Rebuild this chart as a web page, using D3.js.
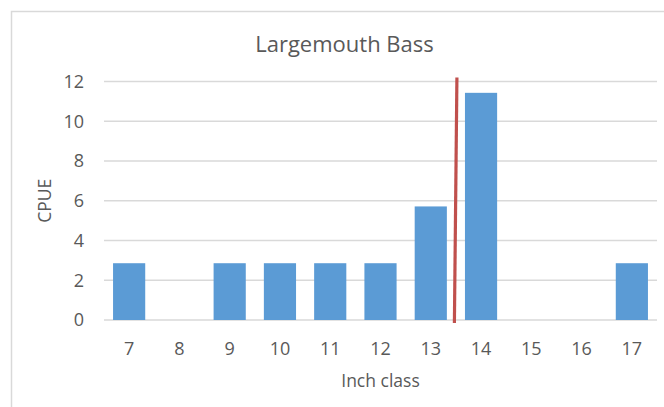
<!DOCTYPE html>
<html>
<head>
<meta charset="utf-8">
<script src="https://cdn.jsdelivr.net/npm/d3@7"></script>
<style>
  html, body { margin: 0; padding: 0; background: #fff; }
  svg { display: block; font-family: "Open Sans", sans-serif; }
</style>
</head>
<body>
<svg id="chart" width="664" height="407"></svg>
<script>
const categories = ["7", "8", "9", "10", "11", "12", "13", "14", "15", "16", "17"];
const cpue = [2.857, 0, 2.857, 2.857, 2.857, 2.857, 5.714, 11.43, 0, 0, 2.857];
const yTicks = [0, 2, 4, 6, 8, 10, 12];
const titleText = "Largemouth Bass";
const xTitle = "Inch class";
const yTitle = "CPUE";
// reference line between classes 13 and 14 (top and bottom ends, in category position and value units)
const refLine = [{pos: 13.52, v: 12.2}, {pos: 13.47, v: -0.15}];

(function () {
const svg = d3.select("#chart");
const W = 664, H = 407;
const pLeft = 104, pRight = 657, pTop = 81.5, pBottom = 320;

// chart border
svg.append("path")
  .attr("d", `M11.5,${H} V11.5 H${W}`)
  .attr("fill", "none").attr("stroke", "#d9d9d9").attr("stroke-width", 1.5);

const x = d3.scaleBand().domain(categories).range([pLeft, pRight]).paddingInner(0.36).paddingOuter(0.18);
const y = d3.scaleLinear().domain([0, 12]).range([pBottom, pTop]);

// gridlines
svg.append("g").selectAll("line").data(yTicks).join("line")
  .attr("x1", pLeft).attr("x2", pRight)
  .attr("y1", d => y(d)).attr("y2", d => y(d))
  .attr("stroke", "#d9d9d9").attr("stroke-width", 1.3);

// y axis labels
const yAxis = d3.axisLeft(y).tickValues(yTicks).tickSize(0).tickPadding(0);
svg.append("g").attr("transform", `translate(84,0)`).call(yAxis)
  .call(g => g.select(".domain").remove())
  .selectAll("text").attr("fill", "#595959").attr("font-size", 18)
  .attr("font-family", "Open Sans, sans-serif");

// x axis labels
const xAxis = d3.axisBottom(x).tickSize(0).tickPadding(0);
svg.append("g").attr("transform", `translate(0,${pBottom + 22})`).call(xAxis)
  .call(g => g.select(".domain").remove())
  .selectAll("text").attr("fill", "#595959").attr("font-size", 18)
  .attr("font-family", "Open Sans, sans-serif");

// bars
svg.append("g").selectAll("rect").data(categories.map((c, i) => ({c, v: cpue[i]})).filter(d => d.v > 0)).join("rect")
  .attr("x", d => x(d.c)).attr("width", x.bandwidth())
  .attr("y", d => y(d.v)).attr("height", d => y(0) - y(d.v))
  .attr("fill", "#5b9bd5");

// reference line
const step = x.step();
const posX = p => x(categories[0]) + x.bandwidth() / 2 + (p - 7) * step;
svg.append("line")
  .attr("x1", posX(refLine[0].pos)).attr("y1", y(refLine[0].v))
  .attr("x2", posX(refLine[1].pos)).attr("y2", y(refLine[1].v))
  .attr("stroke", "#c0504d").attr("stroke-width", 3.2);

// title
svg.append("text").attr("x", 344.5).attr("y", 52)
  .attr("text-anchor", "middle").attr("fill", "#595959").attr("font-size", 22)
  .text(titleText);

// axis titles
svg.append("text").attr("x", (pLeft + pRight) / 2).attr("y", 387)
  .attr("text-anchor", "middle").attr("fill", "#595959").attr("font-size", 17.5)
  .text(xTitle);
svg.append("text").attr("transform", `translate(51,${(pTop + pBottom) / 2}) rotate(-90)`)
  .attr("text-anchor", "middle").attr("fill", "#595959").attr("font-size", 17.5)
  .text(yTitle);
})();
</script>
</body>
</html>
